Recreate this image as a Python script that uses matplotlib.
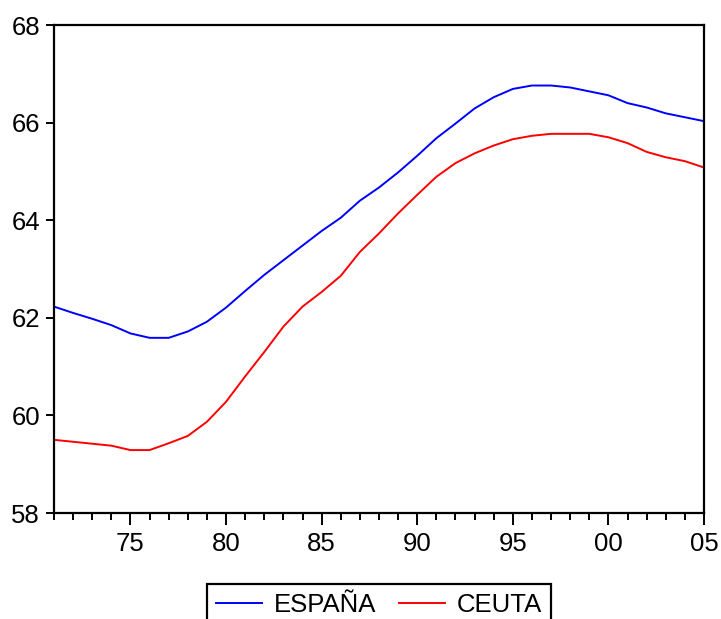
import numpy as np
import matplotlib
matplotlib.use('Agg')
import matplotlib.pyplot as plt
from matplotlib.ticker import MultipleLocator, FuncFormatter

plt.rcParams['font.family'] = ['Liberation Sans', 'DejaVu Sans']

years = list(range(1971, 2006))

espana = [62.23, 62.10, 61.98, 61.85, 61.68, 61.59, 61.59, 61.72, 61.92, 62.21,
          62.55, 62.88, 63.18, 63.48, 63.78, 64.05, 64.40, 64.67, 64.98, 65.32,
          65.68, 65.98, 66.29, 66.52, 66.69, 66.76, 66.76, 66.72, 66.64, 66.56,
          66.40, 66.31, 66.19, 66.11, 66.03]

ceuta = [59.50, 59.46, 59.42, 59.38, 59.29, 59.29, 59.43, 59.58, 59.87, 60.28,
         60.80, 61.30, 61.82, 62.23, 62.53, 62.86, 63.35, 63.73, 64.14, 64.52,
         64.89, 65.17, 65.37, 65.53, 65.66, 65.73, 65.77, 65.77, 65.77, 65.70,
         65.58, 65.40, 65.29, 65.21, 65.08]

fs = 18.5

fig = plt.figure(figsize=(7.21, 6.19), dpi=100)
ax = fig.add_axes([0.0749, 0.1712, 0.9015, 0.7884])

ax.plot(years, espana, color='#0000ff', lw=1.4, label='ESPAÑA')
ax.plot(years, ceuta, color='#ff0000', lw=1.4, label='CEUTA')

ax.set_xlim(1971, 2005)
ax.set_ylim(58, 68)

ax.xaxis.set_major_locator(MultipleLocator(5))
ax.xaxis.set_minor_locator(MultipleLocator(1))
ax.xaxis.set_major_formatter(FuncFormatter(lambda v, p: '%02d' % (int(round(v)) % 100)))
ax.yaxis.set_major_locator(MultipleLocator(2))

ax.tick_params(axis='both', which='major', labelsize=fs, width=1.4, color='black')
ax.tick_params(axis='x', which='major', length=8.5, pad=5)
ax.tick_params(axis='x', which='minor', length=5, width=1.4)
ax.tick_params(axis='y', which='major', length=6, pad=4)

for s in ax.spines.values():
    s.set_linewidth(1.6)
    s.set_color('black')

leg = fig.legend(loc='upper center', bbox_to_anchor=(0.5257, 0.0565), ncol=2,
                 fontsize=fs, frameon=True, fancybox=False, edgecolor='black',
                 framealpha=1, handlelength=1.8, handletextpad=0.45,
                 columnspacing=0.9, borderpad=0.35, borderaxespad=0)
leg.get_frame().set_linewidth(1.6)

fig.savefig('out.png', dpi=100)
